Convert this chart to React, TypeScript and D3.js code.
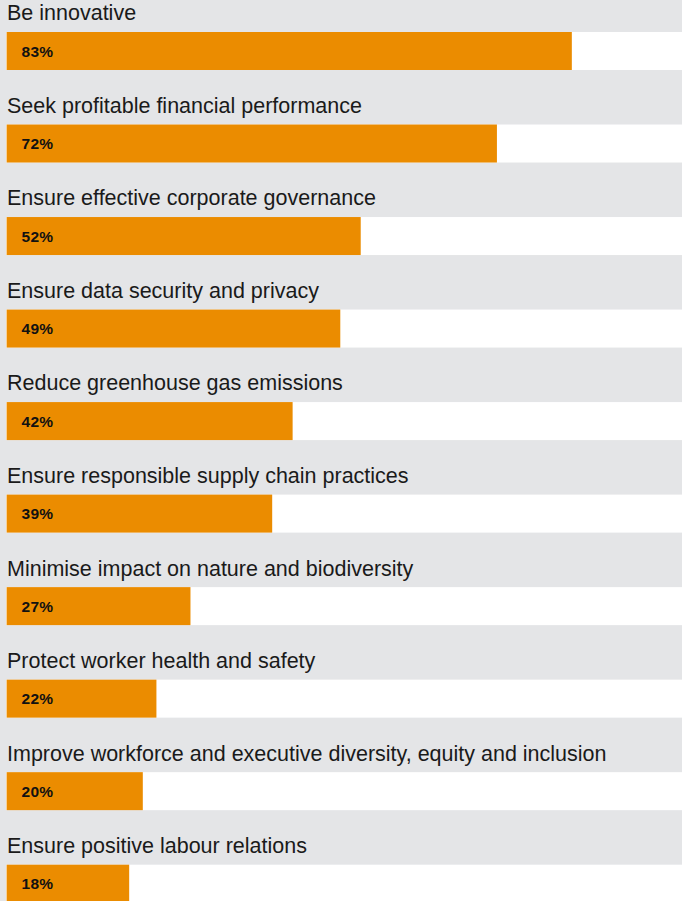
import React from "react";
import * as d3 from "d3";

const categories = [
  "Be innovative",
  "Seek profitable financial performance",
  "Ensure effective corporate governance",
  "Ensure data security and privacy",
  "Reduce greenhouse gas emissions",
  "Ensure responsible supply chain practices",
  "Minimise impact on nature and biodiversity",
  "Protect worker health and safety",
  "Improve workforce and executive diversity, equity and inclusion",
  "Ensure positive labour relations",
];
const values = [83, 72, 52, 49, 42, 39, 27, 22, 20, 18];

const W = 682;
const H = 901;
const ROW = 92.52;
const BAR_TOP = 32;
const BAR_H = 38;

export default function App() {
  const x = d3.scaleLinear().domain([0, 100]).range([6.6, 6.6 + 681]);
  const y = d3
    .scaleBand<number>()
    .domain(d3.range(categories.length))
    .range([0, ROW * categories.length])
    .paddingInner(0)
    .paddingOuter(0);

  return (
    <svg
      width={W}
      height={H}
      style={{ position: "absolute", left: 0, top: 0, display: "block" }}
      fontFamily="'Liberation Sans', Arial, Helvetica, sans-serif"
    >
      <rect x={0} y={0} width={W} height={H} fill="#E4E5E7" />
      {categories.map((c, i) => {
        const y0 = y(i)!;
        return (
          <g key={c}>
            <text x={7} y={y0 + 20.4} fontSize={21.5} fill="#1a1a1a">
              {c}
            </text>
            <rect x={6} y={y0 + BAR_TOP} width={W - 6} height={BAR_H} fill="#ffffff" />
            <rect
              x={x(0)}
              y={y0 + BAR_TOP}
              width={x(values[i]) - x(0)}
              height={BAR_H}
              fill="#EB8C00"
            />
            <text
              x={21.5}
              y={y0 + BAR_TOP + 24.7}
              fontSize={15.5}
              fontWeight="bold"
              letterSpacing={0.3}
              fill="#111"
            >
              {values[i]}%
            </text>
          </g>
        );
      })}
    </svg>
  );
}
